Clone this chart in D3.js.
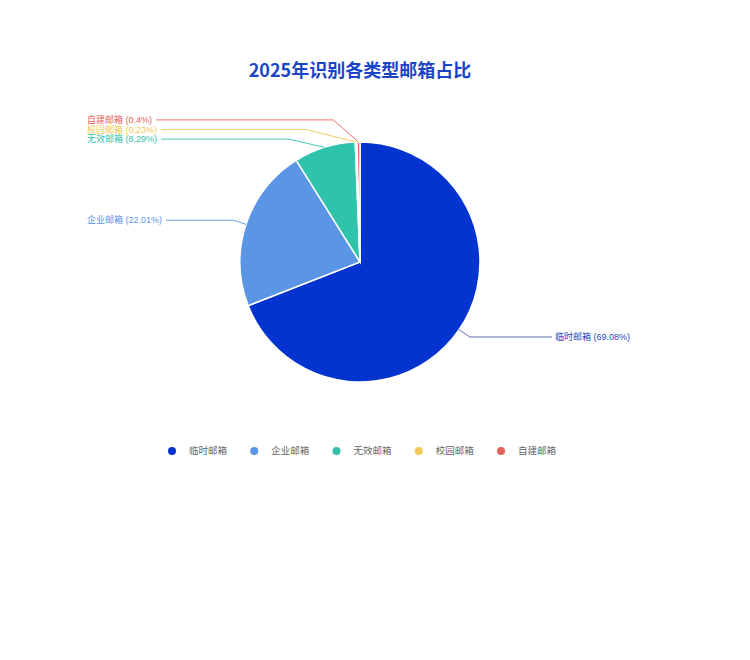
<!DOCTYPE html>
<html><head><meta charset="utf-8">
<script src="https://cdn.jsdelivr.net/npm/d3@7"></script>
<style>body{margin:0;background:#fff}svg{display:block}</style>
</head><body><svg id="c" width="750" height="660"></svg>
<script>
const categories = ["临时邮箱","企业邮箱","无效邮箱","校园邮箱","自建邮箱"];
const values = [69.08, 22.01, 8.29, 0.23, 0.4];
const labels = ["临时邮箱 (69.08%)","企业邮箱 (22.01%)","无效邮箱 (8.29%)","校园邮箱 (0.23%)","自建邮箱 (0.4%)"];
const colors = ["#0434d0","#5b95e6","#2fc3ac","#f2c85a","#e8625c"];
const title = "2025年识别各类型邮箱占比";

const svg = d3.select("#c");
const font = "'Noto Sans CJK SC','Noto Sans',sans-serif";
const labelFont = "'Liberation Sans','Noto Sans CJK SC',sans-serif";
const cx = 360, cy = 262, r = 120;

svg.append("text").attr("x", cx).attr("y", 77).attr("text-anchor","middle")
  .attr("font-family", font).attr("font-size", 18).attr("font-weight", 700)
  .attr("fill", "#1b45c6").text(title);

const data = categories.map((c,i)=>({c, v: values[i], label: labels[i], color: colors[i]}));
const pie = d3.pie().value(d=>d.v).sort(null);
const arcs = pie(data);
const arc = d3.arc().innerRadius(0).outerRadius(r);

const g = svg.append("g").attr("transform", `translate(${cx},${cy})`);
g.selectAll("path").data(arcs).join("path")
  .attr("d", arc).attr("fill", d=>d.data.color)
  .attr("stroke", "#fff").attr("stroke-width", 1.5);

// labels
const len1 = 13, gap = 9.6;
const items = arcs.map(a => {
  const m = (a.startAngle + a.endAngle)/2;
  const s = Math.sin(m), c = Math.cos(m);
  return {a, m, side: s >= 0 ? 1 : -1,
    px: r*s, py: -r*c,
    bx: (r+len1)*s, by: -(r+len1)*c,
    y: -(r+len1)*c - 1.5};
});
[1,-1].forEach(side => {
  const list = items.filter(d=>d.side===side).sort((a,b)=>a.y-b.y);
  for (let it=0; it<200; it++) {
    let moved = false;
    for (let i=0;i<list.length-1;i++){
      const d = list[i+1].y - list[i].y;
      if (d < gap) { const sh=(gap-d)/2; list[i].y-=sh; list[i+1].y+=sh; moved=true; }
    }
    if(!moved) break;
  }
});
items.forEach(d => {
  const natural = Math.abs(d.y - (d.by - 1.5)) < 0.5;
  let bx, by = d.y;
  if (natural) { bx = d.bx; by = d.by; }
  else {
    const ea = r + 14, eb = r + 25;
    bx = d.side * ea * Math.sqrt(Math.max(1 - (d.y*d.y)/(eb*eb), 0));
  }
  const col = d.a.data.color;
  const t = g.append("text")
    .attr("x", d.side > 0 ? 555 - cx : 87 - cx)
    .attr("y", by).attr("dy","0.35em")
    .attr("font-family", labelFont).attr("font-size", 9)
    .attr("fill", d.a.index===0 ? "#2446b8" : col).text(d.a.data.label);
  const tw = t.node().getComputedTextLength();
  const tx = d.side > 0 ? 552 - cx : 87 - cx + tw + 4;
  g.append("polyline")
    .attr("points", [[d.px,d.py],[bx,by],[tx,by]].map(p=>p.join(",")).join(" "))
    .attr("fill","none").attr("stroke", d.a.index===0 ? "#4a5cab" : col)
    .attr("stroke-width", 1).attr("opacity", 0.9);
});

// legend
const lx = d3.scalePoint().domain(categories).range([172, 501]);
const lg = svg.append("g");
categories.forEach((c,i)=>{
  lg.append("circle").attr("cx", lx(c)).attr("cy", 451).attr("r", 4).attr("fill", colors[i]);
  lg.append("text").attr("x", lx(c)+17).attr("y", 451).attr("dy","0.35em")
    .attr("font-family", font).attr("font-size", 9.5).attr("fill","#666").text(c);
});
</script></body></html>
